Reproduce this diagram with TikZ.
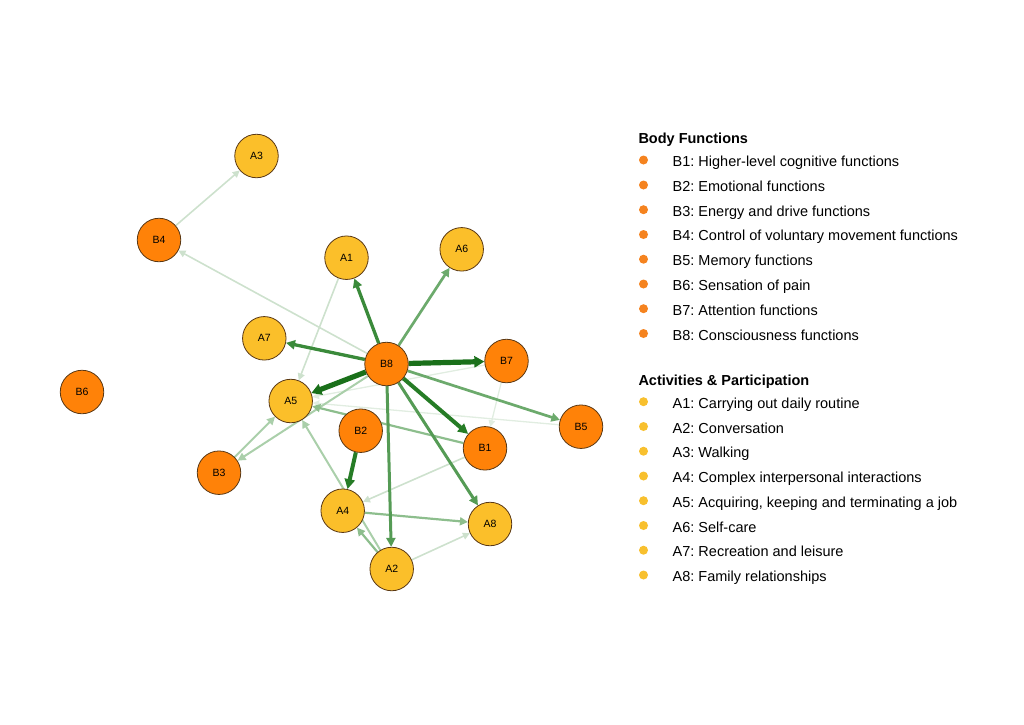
\documentclass[tikz,border=0pt]{standalone}
\usepackage{fontspec}
\setmainfont{Liberation Sans}
\usetikzlibrary{arrows.meta}
\frenchspacing
\pgfdeclarelayer{edges}
\pgfsetlayers{edges,main}
\definecolor{bfill}{HTML}{FF8208}
\definecolor{afill}{HTML}{FBBF2A}
\definecolor{nborder}{HTML}{5A3814}
\definecolor{bdotc}{HTML}{F5831F}
\definecolor{adotc}{HTML}{F8C02E}
\definecolor{ec1}{HTML}{1A701A}
\definecolor{ec2}{HTML}{267C26}
\definecolor{ec3}{HTML}{3A8A3A}
\definecolor{ec4}{HTML}{559B55}
\definecolor{ec5}{HTML}{6CAA6C}
\definecolor{ec6}{HTML}{8DBE8D}
\definecolor{ec7}{HTML}{AACFAA}
\definecolor{ec8}{HTML}{CDE1CD}
\definecolor{ec9}{HTML}{E1EDE1}
\tikzset{
  gnode/.style={circle, draw=nborder, line width=0.8pt, minimum size=43.5pt, inner sep=0pt, font=\fontsize{10.5}{12}\selectfont},
  bn/.style={gnode, fill=bfill},
  an/.style={gnode, fill=afill},
  legdot/.style={circle, inner sep=0pt, minimum size=9pt},
  legtxt/.style={anchor=base west, inner sep=0pt, font=\fontsize{14.5}{17}\selectfont},
  legttl/.style={anchor=base west, inner sep=0pt, font=\fontsize{14.5}{17}\selectfont\bfseries},
  eA/.style={draw=ec1, line width=5.2pt, -{Triangle[length=10pt,width=11pt]}},
  eB/.style={draw=ec2, line width=4pt, -{Triangle[length=10pt,width=10pt]}},
  eC/.style={draw=ec3, line width=3.3pt, -{Triangle[length=9pt,width=9pt]}},
  eD/.style={draw=ec4, line width=3pt, -{Triangle[length=9pt,width=9pt]}},
  eE/.style={draw=ec5, line width=2.7pt, -{Triangle[length=8.5pt,width=8.5pt]}},
  eF/.style={draw=ec6, line width=2.2pt, -{Triangle[length=8pt,width=8pt]}},
  eG/.style={draw=ec7, line width=2pt, -{Triangle[length=8pt,width=8pt]}},
  eH/.style={draw=ec8, line width=1.6pt, -{Triangle[length=7pt,width=7pt]}},
  eI/.style={draw=ec9, line width=1.3pt, -{Triangle[length=6.5pt,width=6.5pt]}},
}
\begin{document}
\begin{tikzpicture}[x=1pt,y=-1pt]
\useasboundingbox (0,0) rectangle (1024,724);
% nodes
\node[an] (A3) at (256.5,156) {A3};
\node[bn] (B4) at (159,240) {B4};
\node[an] (A1) at (346.5,257.7) {A1};
\node[an] (A6) at (461.7,249.3) {A6};
\node[an] (A7) at (264.3,338.3) {A7};
\node[bn] (B8) at (386.5,364) {B8};
\node[bn] (B7) at (506.5,361) {B7};
\node[bn] (B6) at (82,392) {B6};
\node[an] (A5) at (290.7,401) {A5};
\node[bn] (B5) at (581,426.7) {B5};
\node[bn] (B2) at (360.7,430.7) {B2};
\node[bn] (B1) at (485,448.3) {B1};
\node[bn] (B3) at (219,472.7) {B3};
\node[an] (A4) at (342.7,510.7) {A4};
\node[an] (A8) at (490,524) {A8};
\node[an] (A2) at (391.7,569) {A2};
% edges
\begin{pgfonlayer}{edges}
\draw[eI] (B7) -- (B1);
\draw[eI] (B7) -- (A5);
\draw[eI] (B5) -- (A5);
\draw[eH] (B4) -- (A3);
\draw[eH] (B8) -- (B4);
\draw[eH] (A1) -- (A5);
\draw[eH] (B1) -- (A4);
\draw[eH] (A2) -- (A8);
\draw[eG] (B8) -- (B3);
\draw[eG] (B3) -- (A5);
\draw[eG] (A2) -- (A5);
\draw[eF] (B1) -- (A5);
\draw[eF] (A2) -- (A4);
\draw[eF] (A4) -- (A8);
\draw[eE] (B8) -- (A6);
\draw[eE] (B8) -- (B5);
\draw[eD] (B8) -- (A8);
\draw[eD] (B8) -- (A2);
\draw[eC] (B8) -- (A1);
\draw[eC] (B8) -- (A7);
\draw[eB] (B8) -- (B1);
\draw[eB] (B2) -- (A4);
\draw[eA] (B8) -- (B7);
\draw[eA] (B8) -- (A5);
\end{pgfonlayer}
% legend
\node[legttl] (lt1) at (638.3,143.3) {Body Functions};
\node[legdot, fill=bdotc] (bd1) at (643.5,160) {};
\node[legtxt] (bl1) at (672.5,166.7) {B1: Higher-level cognitive functions};
\node[legdot, fill=bdotc] (bd2) at (643.5,185) {};
\node[legtxt] (bl2) at (672.5,191.5) {B2: Emotional functions};
\node[legdot, fill=bdotc] (bd3) at (643.5,209.7) {};
\node[legtxt] (bl3) at (672.5,216.2) {B3: Energy and drive functions};
\node[legdot, fill=bdotc] (bd4) at (643.5,234.5) {};
\node[legtxt] (bl4) at (672.5,240.9) {B4: Control of voluntary movement functions};
\node[legdot, fill=bdotc] (bd5) at (643.5,259.2) {};
\node[legtxt] (bl5) at (672.5,265.7) {B5: Memory functions};
\node[legdot, fill=bdotc] (bd6) at (643.5,284) {};
\node[legtxt] (bl6) at (672.5,290.4) {B6: Sensation of pain};
\node[legdot, fill=bdotc] (bd7) at (643.5,308.7) {};
\node[legtxt] (bl7) at (672.5,315.2) {B7: Attention functions};
\node[legdot, fill=bdotc] (bd8) at (643.5,333.5) {};
\node[legtxt] (bl8) at (672.5,340) {B8: Consciousness functions};
\node[legttl] (lt2) at (638.3,385) {Activities \& Participation};
\node[legdot, fill=adotc] (ad1) at (643.5,401.7) {};
\node[legtxt] (al1) at (672.5,408.3) {A1: Carrying out daily routine};
\node[legdot, fill=adotc] (ad2) at (643.5,426.5) {};
\node[legtxt] (al2) at (672.5,433) {A2: Conversation};
\node[legdot, fill=adotc] (ad3) at (643.5,451.2) {};
\node[legtxt] (al3) at (672.5,457.7) {A3: Walking};
\node[legdot, fill=adotc] (ad4) at (643.5,476) {};
\node[legtxt] (al4) at (672.5,482.5) {A4: Complex interpersonal interactions};
\node[legdot, fill=adotc] (ad5) at (643.5,500.7) {};
\node[legtxt] (al5) at (672.5,507.2) {A5: Acquiring, keeping and terminating a job};
\node[legdot, fill=adotc] (ad6) at (643.5,525.5) {};
\node[legtxt] (al6) at (672.5,532) {A6: Self-care};
\node[legdot, fill=adotc] (ad7) at (643.5,550.2) {};
\node[legtxt] (al7) at (672.5,556.7) {A7: Recreation and leisure};
\node[legdot, fill=adotc] (ad8) at (643.5,575) {};
\node[legtxt] (al8) at (672.5,581.5) {A8: Family relationships};
\end{tikzpicture}
\end{document}
